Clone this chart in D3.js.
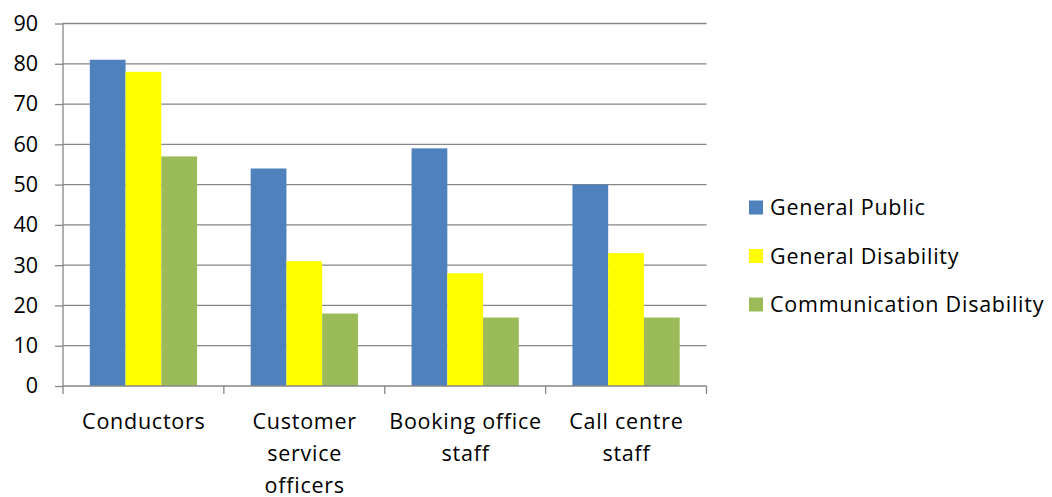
<!DOCTYPE html>
<html><head><meta charset="utf-8">
<script src="https://cdnjs.cloudflare.com/ajax/libs/d3/7.8.5/d3.min.js"></script>
<style>body{margin:0;background:#fff}svg{display:block}text{font-family:"Open Sans",sans-serif;fill:#000}</style>
</head><body><svg id="c" width="1052" height="497"></svg>
<script>
const categories = [["Conductors"], ["Customer","service","officers"], ["Booking office","staff"], ["Call centre","staff"]];
const seriesNames = ["General Public", "General Disability", "Communication Disability"];
const generalPublic = [81, 54, 59, 50];
const generalDisability = [78, 31, 28, 33];
const communicationDisability = [57, 18, 17, 17];
const yTicks = [0,10,20,30,40,50,60,70,80,90];
const colors = ["#4F81BD", "#FFFF00", "#9BBB59"];
const series = [generalPublic, generalDisability, communicationDisability];
const FS = "21.5px";
const LS = "0.75px";

const svg = d3.select("#c");
const pL = 63, pR = 706.5, pT = 23.5, pB = 386;
const x = d3.scaleBand().domain(d3.range(categories.length)).range([pL, pR]).paddingInner(0).paddingOuter(0);
const y = d3.scaleLinear().domain([0, 90]).range([pB, pT]);
const bw = x.bandwidth() / 4.5;

// gridlines
svg.append("g").selectAll("line").data(yTicks.filter(d=>d>0)).join("line")
  .attr("x1", pL).attr("x2", pR).attr("y1", d=>y(d)).attr("y2", d=>y(d))
  .attr("stroke", "#868686").attr("stroke-width", 1.3);

// bars
series.forEach((s, si) => {
  svg.append("g").selectAll("rect").data(s).join("rect")
    .attr("x", (d,i) => x(i) + bw*0.75 + si*bw)
    .attr("width", bw)
    .attr("y", d => y(d))
    .attr("height", d => y(0) - y(d))
    .attr("fill", colors[si]);
});

// y axis
const ya = d3.axisLeft(y).tickValues(yTicks).tickSize(8).tickPadding(17).tickFormat(d3.format("d"));
const gy = svg.append("g").attr("transform", `translate(${pL},0)`).call(ya);
gy.attr("font-family", null).attr("font-size", null);
gy.select(".domain").attr("stroke", "#868686").attr("stroke-width", 1.3).attr("d", `M0,${pT}V${pB}`);
gy.selectAll(".tick line").attr("stroke", "#868686").attr("stroke-width", 1.3);
gy.selectAll(".tick text").style("font-size", FS).style("font-family", "'Open Sans'").attr("fill", "#000");

// x axis
const gx = svg.append("g").attr("transform", `translate(0,${pB})`);
gx.append("line").attr("x1", pL).attr("x2", pR).attr("stroke", "#868686").attr("stroke-width", 1.3);
const edges = d3.range(categories.length + 1).map(i => i < categories.length ? x(i) : x(i-1) + x.bandwidth());
gx.selectAll("line.t").data(edges).join("line").attr("class","t")
  .attr("x1", d=>d).attr("x2", d=>d).attr("y1", 0).attr("y2", 8)
  .attr("stroke", "#868686").attr("stroke-width", 1.3);
categories.forEach((lines, i) => {
  const cx = x(i) + x.bandwidth()/2 + 0.4;
  const t = gx.append("text").attr("text-anchor", "middle").style("font-size", FS).style("letter-spacing", LS)
    .attr("x", cx).attr("y", 42.5);
  lines.forEach((l, j) => t.append("tspan").attr("x", cx).attr("dy", j === 0 ? 0 : 32).text(l));
});

// legend
const lg = svg.append("g");
seriesNames.forEach((n, i) => {
  const cy = 207.5 + i * 48.5;
  lg.append("rect").attr("x", 749).attr("y", cy - 7).attr("width", 14).attr("height", 14).attr("fill", colors[i]);
  lg.append("text").attr("x", 770).attr("y", cy + 7.5).style("font-size", FS).style("letter-spacing", LS).text(n);
});
</script></body></html>
